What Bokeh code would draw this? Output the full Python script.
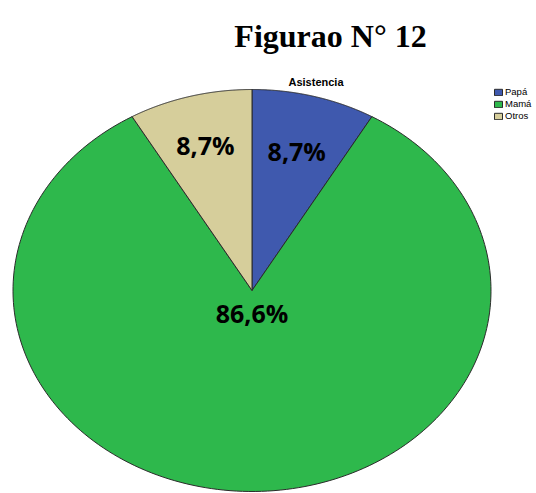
import numpy as np
from bokeh.plotting import figure
from bokeh.models import Range1d, ColumnDataSource, Legend, LegendItem
from bokeh.core.properties import value
from bokeh.embed import file_html
from bokeh.resources import INLINE

# ---- data ----
categories = ["Papá", "Mamá", "Otros"]
percents = [8.7, 86.6, 8.7]
labels = ["8,7%", "86,6%", "8,7%"]
colors = ["#3F59AE", "#2EB84C", "#D6CE9B"]

title_text = "Figurao N° 12"
subtitle_text = "Asistencia"

# ---- layout constants (pixels in frame) ----
W, H = 536, 493
cx, cy = 251.5, 290.0
rx, ry = 239.0, 201.0
label_r = [0.72, 0.11, 0.75]

p = figure(width=W, height=H, output_backend="svg", toolbar_location=None,
           x_range=Range1d(0, W), y_range=Range1d(H, 0), min_border=0)
p.axis.visible = False
p.grid.visible = False
p.outline_line_color = None

# wedges clockwise from 12 o'clock
total = sum(percents)
fr = np.array(percents) / total
ends = np.cumsum(fr) * 2 * np.pi
starts = ends - fr * 2 * np.pi
xs, ys, lx, ly = [], [], [], []
for s, e, r in zip(starts, ends, label_r):
    t = np.linspace(s, e, 200)
    xs.append(np.concatenate([[cx], cx + rx * np.sin(t), [cx]]))
    ys.append(np.concatenate([[cy], cy - ry * np.cos(t), [cy]]))
    m = (s + e) / 2
    lx.append(cx + r * rx * np.sin(m))
    ly.append(cy - r * ry * np.cos(m))

src = ColumnDataSource(dict(xs=xs, ys=ys, color=colors, cat=categories))
r = p.patches("xs", "ys", source=src, fill_color="color", line_color="#2b2b2b", line_width=1)

lsrc = ColumnDataSource(dict(x=lx, y=ly, t=labels))
p.text("x", "y", text="t", source=lsrc, text_font=value("Open Sans"), text_font_style="bold",
       text_font_size="25px", text_align="center", text_baseline="middle", text_color="black")

# titles
p.text(x=[330], y=[35], text=[title_text], text_font=value("Liberation Serif"),
       text_font_style="bold", text_font_size="32px", text_align="center",
       text_baseline="alphabetic", text_color="black")
p.text(x=[315.5], y=[81], text=[subtitle_text], text_font=value("Liberation Sans"),
       text_font_style="bold", text_font_size="11px", text_align="center",
       text_baseline="alphabetic", text_color="black")

items = [LegendItem(label=c, renderers=[r], index=i) for i, c in enumerate(categories)]
legend = Legend(items=items, location=(493, 372), glyph_width=10, glyph_height=8,
                label_text_font_size="9.5px", label_text_font="Liberation Sans",
                label_text_color="black",
                label_height=10, label_standoff=2, spacing=1, padding=0, margin=0,
                border_line_alpha=0, background_fill_alpha=0)
p.add_layout(legend, "center")

open("out.html", "w").write(file_html(p, INLINE))
